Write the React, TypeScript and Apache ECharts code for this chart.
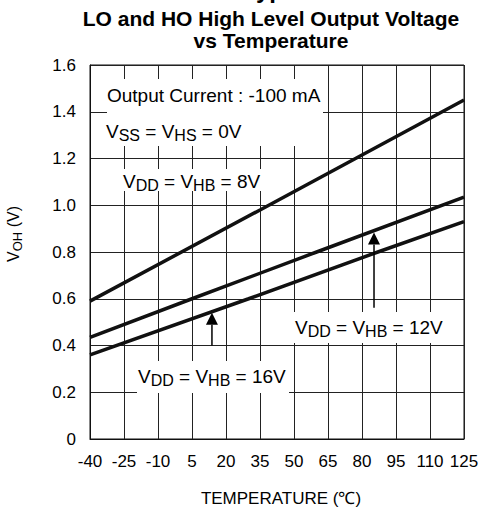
import React, { useEffect, useRef } from 'react';
import * as echarts from 'echarts';

// ---- data ----
const xTickLabels = [-40, -25, -10, 5, 20, 35, 50, 65, 80, 95, 110, 125];
const yTickLabels = [0, 0.2, 0.4, 0.6, 0.8, 1.0, 1.2, 1.4, 1.6];

const temps8V = [-40, 35, 125];
const voh8V = [0.59, 0.98, 1.45];

const temps12V = [-40, 5, 60, 125];
const voh12V = [0.435, 0.6, 0.8, 1.035];

const temps16V = [-40, 30, 87, 125];
const voh16V = [0.36, 0.6, 0.8, 0.93];

// arrows: [temperature, from V, to V]
const arrow16V = [13.8, 0.4, 0.54];
const arrow12V = [85.3, 0.562, 0.883];

const X_OFFSET = 40; // axis runs 0..165 so ticks start at a multiple of the interval

const FF = "'Liberation Sans', Arial, Helvetica, sans-serif";

export default function App() {
  const ref = useRef<HTMLDivElement>(null);

  useEffect(() => {
    const chart = echarts.init(ref.current!, null, { renderer: 'svg' });
    const mk = (ts: number[], vs: number[]) => ts.map((t, i) => [t + X_OFFSET, vs[i]]);
    const lineSeries = (name: string, data: number[][]) => ({
      name,
      type: 'line',
      data,
      symbol: 'none',
      lineStyle: { color: '#111', width: 3.5 },
      z: 5,
    });

    chart.setOption({
      animation: false,
      backgroundColor: '#fff',
      grid: {
        left: 90,
        right: 18,
        top: 65,
        bottom: 80,
        show: true,
        borderColor: '#111',
        borderWidth: 1,
      },
      xAxis: {
        type: 'value',
        min: xTickLabels[0] + X_OFFSET,
        max: xTickLabels[xTickLabels.length - 1] + X_OFFSET,
        interval: 15,
        axisLine: { show: true, lineStyle: { color: '#111', width: 1 } },
        axisTick: { show: false },
        splitLine: { show: true, lineStyle: { color: '#222', width: 1 } },
        axisLabel: {
          formatter: (v: number) => String(Math.round(v - X_OFFSET)),
          fontSize: 17,
          color: '#000',
          fontFamily: FF,
          margin: 14,
        },
      },
      yAxis: {
        type: 'value',
        min: yTickLabels[0],
        max: yTickLabels[yTickLabels.length - 1],
        interval: 0.2,
        axisLine: { show: true, lineStyle: { color: '#111', width: 1 } },
        axisTick: { show: false },
        splitLine: { show: true, lineStyle: { color: '#222', width: 1 } },
        axisLabel: {
          formatter: (v: number) => (Math.abs(v) < 1e-9 ? '0' : v.toFixed(1)),
          fontSize: 17,
          color: '#000',
          fontFamily: FF,
          margin: 14,
        },
      },
      series: [
        lineSeries('8V', mk(temps8V, voh8V)),
        lineSeries('12V', mk(temps12V, voh12V)),
        lineSeries('16V', mk(temps16V, voh16V)),
      ],
    });

    const px = (t: number, v: number) =>
      chart.convertToPixel({ gridIndex: 0 }, [t + X_OFFSET, v]) as number[];

    const arrow = (a: number[]) => {
      const base = px(a[0], a[1]);
      const tip = px(a[0], a[2]);
      const headLen = 12;
      const half = 6;
      return [
        {
          type: 'line',
          z: 20,
          shape: { x1: base[0], y1: base[1], x2: tip[0], y2: tip[1] + headLen },
          style: { stroke: '#000', lineWidth: 1.5 },
        },
        {
          type: 'polygon',
          z: 20,
          shape: {
            points: [
              [tip[0] - half, tip[1] + headLen],
              [tip[0] + half, tip[1] + headLen],
              [tip[0], tip[1]],
            ],
          },
          style: { fill: '#000' },
        },
      ];
    };

    const box = (x: number, y: number, w: number, h: number) => ({
      type: 'rect',
      z: 15,
      shape: { x, y, width: w, height: h },
      style: { fill: '#fff' },
    });

    const rich = {
      n: { fontSize: 19, fontFamily: FF, color: '#000' },
      s: { fontSize: 16, fontFamily: FF, color: '#000', padding: [9, 0, 0, 0] },
    };

    const rtext = (x: number, y: number, text: string) => ({
      type: 'text',
      z: 25,
      x,
      y,
      style: { text, rich, verticalAlign: 'middle', align: 'left' },
    });

    chart.setOption({
      graphic: [
        // heading cut off at the very top of the picture (only its lower edge shows)
        {
          type: 'text',
          z: 25,
          x: 243,
          y: 1,
          style: {
            text: 'Typical Characteristics',
            fontSize: 24,
            fontWeight: 'bold',
            fontFamily: FF,
            fill: '#000',
            verticalAlign: 'bottom',
            align: 'left',
          },
        },
        {
          type: 'text',
          z: 25,
          x: 271,
          y: 18,
          style: {
            text: 'LO and HO High Level Output Voltage',
            fontSize: 21,
            fontWeight: 'bold',
            fontFamily: FF,
            fill: '#000',
            align: 'center',
            verticalAlign: 'middle',
          },
        },
        {
          type: 'text',
          z: 25,
          x: 271,
          y: 40,
          style: {
            text: 'vs Temperature',
            fontSize: 21,
            fontWeight: 'bold',
            fontFamily: FF,
            fill: '#000',
            align: 'center',
            verticalAlign: 'middle',
          },
        },
        // axis titles
        {
          type: 'text',
          z: 25,
          x: 281,
          y: 498,
          style: {
            text: 'TEMPERATURE (℃)',
            fontSize: 17,
            fontFamily: FF,
            fill: '#000',
            align: 'center',
            verticalAlign: 'middle',
          },
        },
        {
          type: 'text',
          z: 25,
          x: 13,
          y: 234,
          rotation: Math.PI / 2,
          style: {
            text: '{n|V}{s|OH}{n| (V)}',
            rich: {
              n: { fontSize: 16, fontFamily: FF, color: '#000' },
              s: { fontSize: 13, fontFamily: FF, color: '#000', padding: [8, 0, 0, 0] },
            },
            align: 'center',
            verticalAlign: 'middle',
          },
        },
        // annotation boxes
        box(107, 79, 216, 67),
        box(121, 169, 146, 22),
        box(293, 312, 154, 31),
        box(137, 361, 152, 32),
        {
          type: 'text',
          z: 25,
          x: 107,
          y: 95,
          style: {
            text: 'Output Current : -100 mA',
            fontSize: 19,
            fontFamily: FF,
            fill: '#000',
            align: 'left',
            verticalAlign: 'middle',
          },
        },
        rtext(106, 131, '{n|V}{s|SS}{n| = V}{s|HS}{n| = 0V}'),
        rtext(123, 181, '{n|V}{s|DD}{n| = V}{s|HB}{n| = 8V}'),
        rtext(295, 327, '{n|V}{s|DD}{n| = V}{s|HB}{n| = 12V}'),
        rtext(138, 376, '{n|V}{s|DD}{n| = V}{s|HB}{n| = 16V}'),
        ...arrow(arrow16V),
        ...arrow(arrow12V),
      ],
    });

    return () => chart.dispose();
  }, []);

  return (
    <div
      ref={ref}
      style={{ position: 'fixed', left: 0, top: 0, width: 482, height: 519 }}
    />
  );
}
